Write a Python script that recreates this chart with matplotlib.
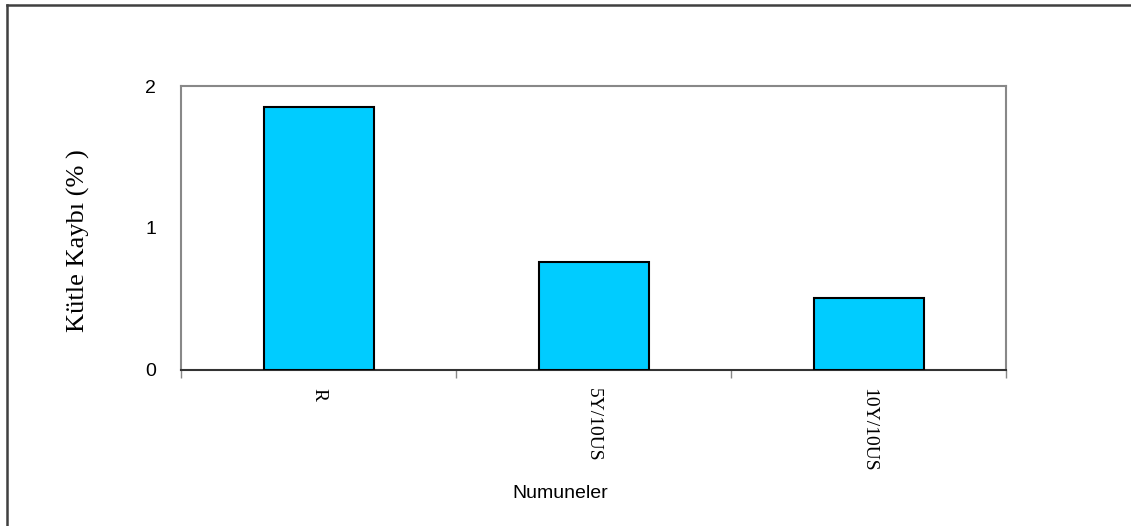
import matplotlib
matplotlib.use("Agg")
import matplotlib.pyplot as plt
from matplotlib.lines import Line2D
import numpy as np

categories = ["R", "5Y/10US", "10Y/10US"]
values = [1.85, 0.76, 0.51]
yticks = [0, 1, 2]

W, H = 1131, 526
fig = plt.figure(figsize=(W / 100, H / 100), dpi=100)
fig.patch.set_facecolor("white")

# outer frame (only top and left visible)
fx = 7 / W
fy = 1 - 4.5 / H
fig.add_artist(Line2D([fx, fx], [0, fy], transform=fig.transFigure,
                      color="#404040", lw=1.8))
fig.add_artist(Line2D([fx, 1], [fy, fy], transform=fig.transFigure,
                      color="#404040", lw=1.8))

left, right, top, bottom = 181, 1006, 86, 370
ax = fig.add_axes([left / W, 1 - bottom / H, (right - left) / W, (bottom - top) / H])

x = np.arange(len(categories))
ax.bar(x, values, width=0.4, color="#00CCFF", edgecolor="black", linewidth=1.5, zorder=3)

ax.set_xlim(-0.5, len(categories) - 0.5)
ax.set_ylim(0, 2)

for side in ["left", "top", "right"]:
    ax.spines[side].set_color("#888888")
    ax.spines[side].set_linewidth(1.5)
ax.spines["bottom"].set_color("#333333")
ax.spines["bottom"].set_linewidth(1.5)

ax.set_xticks(x)
ax.set_xticklabels(categories, rotation=270, family="Liberation Serif", fontsize=14)
ax.set_xticks(np.arange(-0.5, len(categories), 1.0), minor=True)
ax.tick_params(axis="x", which="major", length=0, pad=13)
ax.tick_params(axis="x", which="minor", length=6, width=1, color="#888888", direction="out")

ax.set_yticks(yticks)
ax.set_yticklabels([str(v) for v in yticks], family="Liberation Sans", fontsize=14)
ax.tick_params(axis="y", length=0, pad=18)

fig.text(560 / W, 1 - 494 / H, "Numuneler", family="Liberation Sans", fontsize=14,
         ha="center", va="center")
fig.text(78 / W, 1 - 241 / H, "Kütle Kaybı (% )", family="Liberation Serif", fontsize=19,
         ha="center", va="center", rotation=90)

fig.savefig("out.png", dpi=100, facecolor="white")
